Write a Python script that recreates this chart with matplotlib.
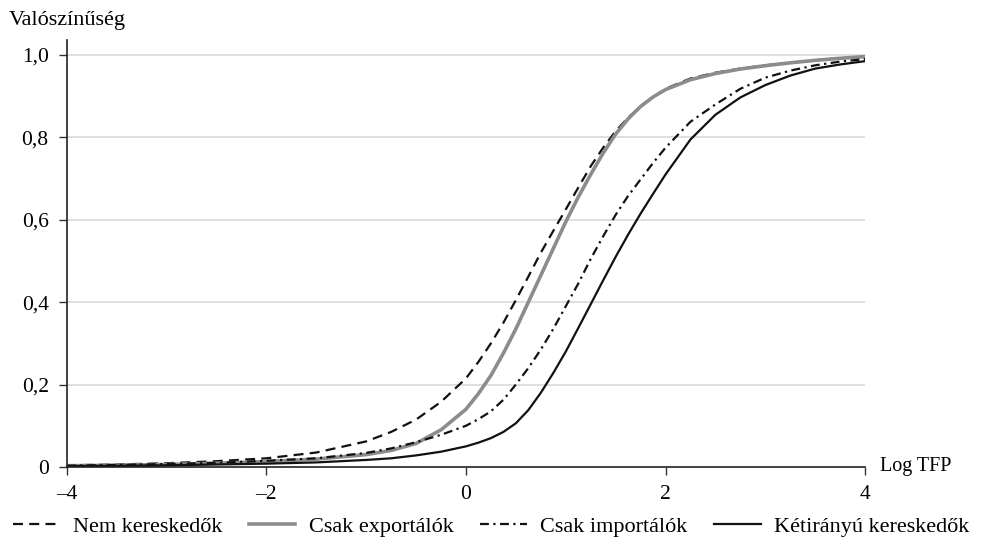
import numpy as np
import matplotlib.pyplot as plt

plt.rcParams['font.family'] = ['Liberation Serif', 'DejaVu Serif']

# Log TFP values where the curves were read
x_tfp = [-4, -3.5, -3, -2.5, -2, -1.5, -1, -0.75, -0.5, -0.25, 0, 0.125, 0.25, 0.375,
         0.5, 0.625, 0.75, 0.875, 1.0, 1.125, 1.25, 1.375, 1.5, 1.625, 1.75, 1.875,
         2.0, 2.25, 2.5, 2.75, 3.0, 3.25, 3.5, 3.75, 4.0]

nem_keresk = [.004, .006, .009, .014, .021, .035, .062, .085, .115, .158, .215, .255, .30, .35,
              .405, .462, .52, .573, .625, .678, .73, .775, .815, .848, .875, .898,
              .918, .943, .957, .967, .975, .981, .987, .992, .996]
csak_export = [.003, .004, .006, .009, .013, .019, .03, .04, .057, .09, .14, .178, .222, .276,
               .335, .40, .465, .53, .595, .655, .71, .762, .808, .845, .875, .898,
               .916, .94, .955, .966, .974, .981, .987, .992, .996]
csak_import = [.003, .005, .007, .01, .015, .021, .034, .045, .06, .078, .10, .116, .135, .163,
               .20, .24, .285, .335, .39, .445, .505, .56, .612, .658, .698, .738,
               .775, .838, .88, .918, .945, .962, .975, .984, .99]
ketiranyu = [.002, .003, .004, .006, .008, .011, .017, .021, .028, .037, .05, .059, .07, .085,
             .106, .138, .18, .228, .28, .337, .395, .453, .51, .564, .615, .663,
             .71, .795, .855, .897, .927, .95, .967, .977, .985]

labels = ['Nem kereskedők', 'Csak exportálók', 'Csak importálók', 'Kétirányú kereskedők']
xticks = [-4, -2, 0, 2, 4]
yticks = [0, 0.2, 0.4, 0.6, 0.8, 1.0]
yticklabels = ['0', '0,2', '0,4', '0,6', '0,8', '1,0']

fig = plt.figure(figsize=(9.82, 5.5), dpi=100)
ax = fig.add_axes([0.068, 0.151, 0.813, 0.776])

for v in yticks[1:]:
    ax.axhline(v, color='#d9d9d9', lw=1.2, zorder=0)

ax.plot(x_tfp, nem_keresk, color='#111111', lw=1.6, ls=(0, (4.5, 2.8)), label=labels[0])
ax.plot(x_tfp, csak_export, color='#8c8c8c', lw=2.6, label=labels[1])
ax.plot(x_tfp, csak_import, color='#111111', lw=1.6, ls=(0, (4, 2, 1, 2)), label=labels[2])
ax.plot(x_tfp, ketiranyu, color='#111111', lw=1.6, label=labels[3])

ax.set_xlim(-4, 4)
ax.set_ylim(0, 1.036)
ax.set_xticks(xticks)
ax.set_xticklabels(['\u2013' + str(-t) if t < 0 else str(t) for t in xticks])
ax.set_yticks(yticks)
ax.set_yticklabels(yticklabels)
ax.tick_params(axis='both', direction='out', length=6, width=1, color='#333333',
               labelsize=15.5, pad=7)

for s in ['top', 'right']:
    ax.spines[s].set_visible(False)
for s in ['left', 'bottom']:
    ax.spines[s].set_color('#222222')
    ax.spines[s].set_linewidth(1.2)
ax.spines['bottom'].set_bounds(-4, 4)

ax.annotate('Log TFP', xy=(1.0, 0), xycoords='axes fraction', xytext=(11, 0),
            textcoords='offset points', ha='left', va='center', fontsize=14.5)
fig.text(0.009, 0.962, 'Valószínűség', ha='left', va='center', fontsize=16)

fig.legend(loc='center', bbox_to_anchor=(0.5, 0.042), ncol=4, frameon=False,
           fontsize=16, handlelength=2.1, columnspacing=1.2, handletextpad=0.6,
           borderaxespad=0, borderpad=0)

fig.savefig('out.png', dpi=100)
